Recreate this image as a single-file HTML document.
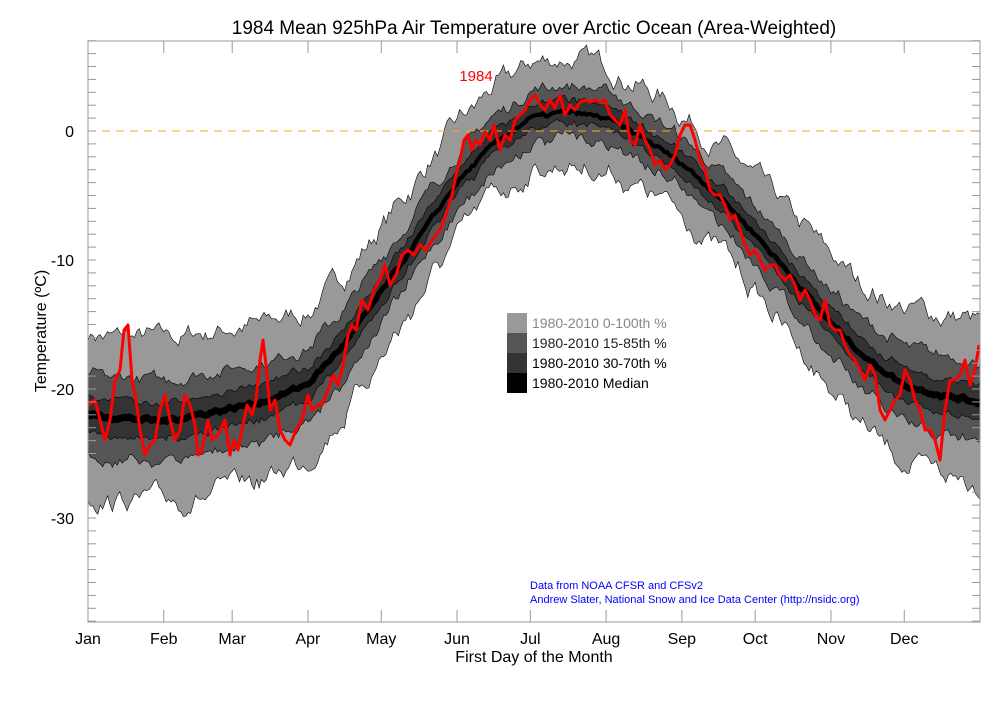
<!DOCTYPE html><html><head><meta charset="utf-8"><style>body{margin:0;background:#fff}svg{display:block;font-family:"Liberation Sans",sans-serif}</style></head><body>
<svg id="s" width="1008" height="720" viewBox="0 0 1008 720"></svg>
<script>
const X0=88,X1=980,DX=(X1-X0)/365,Y0=131,DY=12.9;
const xp=d=>X0+d*DX, yp=v=>Y0-v*DY;
const mk=[[0,-22],[30,-22.5],[59,-21.5],[75,-20.8],[90,-19.6],[105,-16.5],[120,-12.5],[151,-4],[166,-1],[181,1],[196,1.5],[212,1],[227,-0.5],[243,-2.5],[258,-5],[273,-8],[289,-11.5],[304,-14.9],[319,-17.7],[334,-19.7],[350,-20.5],[365,-21]];
function interp(a,d){for(let i=0;i<a.length-1;i++){if(d<=a[i+1][0]){let t=(d-a[i][0])/(a[i+1][0]-a[i][0]);return a[i][1]+t*(a[i+1][1]-a[i][1]);}}return a[a.length-1][1];}
const wk=[[0,6.3],[60,6.3],[120,5],[160,4.2],[220,4],[260,4],[300,5],[340,6.2],[365,6.3]];
const lw=[[0,7],[90,6],[150,4],[240,4],[300,5],[365,7]];
let seed=7;function rnd(){seed=(seed*16807)%2147483647;return seed/2147483647-0.5;}
function noise(n,amp,sm){let a=[],v=0;for(let i=0;i<n;i++){v=v*sm+rnd()*amp;a.push(v);}return a;}
const N=366,nz=[noise(N,1.2,0.8),noise(N,1.2,0.8),noise(N,0.7,0.7),noise(N,0.7,0.7),noise(N,0.4,0.6),noise(N,0.4,0.6),noise(N,0.3,0.5)];
function band(fr,i1,i2,col){let up=[],dn=[];for(let d=0;d<N;d++){let m=interp(mk,d)+nz[6][d],w=interp(wk,d);up.push(xp(d).toFixed(1)+','+yp(m+w*fr+nz[i1][d]).toFixed(1));dn.push(xp(d).toFixed(1)+','+yp(m-w*fr-nz[i2][d]).toFixed(1));}
return `<polygon points="${up.join(' ')} ${dn.reverse().join(' ')}" fill="${col}" stroke="#000" stroke-width="0.6"/>`;}
let h='';
h+=`<defs><clipPath id="c"><rect x="${X0}" y="41" width="${X1-X0}" height="581"/></clipPath></defs>`;
h+=`<text x="534" y="34" font-size="19" text-anchor="middle">1984 Mean 925hPa Air Temperature over Arctic Ocean (Area-Weighted)</text>`;
h+=`<g clip-path="url(#c)">`;
h+=band(1,0,1,'#999')+band(0.5,2,3,'#555')+band(0.22,4,5,'#333');
for(let d=0;d<N-1;d++){h+=`<line x1="${xp(d).toFixed(1)}" y1="${yp(interp(mk,d)+nz[6][d]).toFixed(1)}" x2="${xp(d+1).toFixed(1)}" y2="${yp(interp(mk,d+1)+nz[6][d+1]).toFixed(1)}" stroke="#000" stroke-width="${interp(lw,d)}" stroke-linecap="round"/>`;}
h+=`<line x1="${X0}" y1="${Y0}" x2="${X1}" y2="${Y0}" stroke="#f5a623" stroke-width="1" stroke-dasharray="8,6"/>`;
const red=[[88,405],[95,400],[100,420],[105,440],[110,420],[115,380],[120,370],[124,330],[128,325],[132,380],[136,400],[140,430],[145,455],[150,445],[155,440],[160,410],[165,395],[170,420],[175,440],[180,430],[185,395],[190,405],[195,425],[198,455],[202,450],[208,420],[212,440],[218,435],[225,420],[230,455],[234,440],[238,450],[242,430],[247,405],[252,415],[256,400],[260,360],[263,340],[266,365],[270,410],[275,400],[280,430],[285,440],[290,445],[296,430],[302,420],[308,395],[312,410],[318,405],[322,405],[328,390],[333,375],[338,385],[343,365],[348,335],[352,325],[356,330],[362,300],[368,310],[374,290],[380,280],[385,265],[390,285],[396,275],[402,255],[408,250],[414,255],[420,245],[426,250],[432,240],[440,230],[446,215],[452,195],[456,175],[460,160],[464,140],[468,135],[472,150],[476,140],[480,145],[485,132],[490,140],[494,125],[500,150],[505,135],[510,140],[515,120],[520,115],[525,110],[530,100],[535,95],[540,105],[545,110],[550,100],[555,108],[560,95],[565,115],[570,105],[575,110],[580,102],[585,100],[590,102],[595,100],[600,102],[605,100],[610,115],[615,120],[620,125],[625,110],[630,140],[635,145],[640,125],[645,140],[650,150],[655,165],[660,160],[665,170],[670,165],[675,155],[680,135],[685,125],[690,125],[695,140],[700,160],[705,170],[710,190],[715,195],[720,195],[725,205],[730,220],[735,215],[740,230],[745,245],[750,255],[755,250],[760,260],[765,270],[770,265],[775,265],[780,275],[785,280],[790,275],[795,285],[800,300],[805,290],[810,300],[815,315],[820,320],[825,300],[830,325],[835,330],[840,330],[845,345],[850,355],[855,360],[860,370],[865,380],[870,365],[875,375],[880,410],[885,420],[890,410],[895,400],[900,395],[905,370],[910,380],[915,400],[920,410],[925,430],[930,430],[935,440],[940,460],[945,410],[950,380],[955,380],[960,375],[965,360],[970,385],[975,370],[979,345]];
h+=`<polyline points="${red.map(p=>p.join(',')).join(' ')}" fill="none" stroke="#f00" stroke-width="3" stroke-linejoin="round"/>`;
h+=`</g>`;
h+=`<text x="476" y="81" font-size="15" fill="#f00" text-anchor="middle">1984</text>`;
h+=`<rect x="${X0}" y="41" width="${X1-X0}" height="581" fill="none" stroke="#999" stroke-width="1"/>`;
for(let v=7;v>=-38;v--){let y=yp(v);h+=`<line x1="${X0}" y1="${y}" x2="${X0+8}" y2="${y}" stroke="#999"/><line x1="${X1}" y1="${y}" x2="${X1-8}" y2="${y}" stroke="#999"/>`;
if(v%10==0)h+=`<text x="${X0-14}" y="${y+6}" font-size="16" text-anchor="end">${v}</text>`;}
const md=[0,31,59,90,120,151,181,212,243,273,304,334],mn=['Jan','Feb','Mar','Apr','May','Jun','Jul','Aug','Sep','Oct','Nov','Dec'];
md.forEach((d,i)=>{let x=xp(d);h+=`<line x1="${x}" y1="41" x2="${x}" y2="53" stroke="#999"/><line x1="${x}" y1="622" x2="${x}" y2="610" stroke="#999"/><text x="${x}" y="644" font-size="16" text-anchor="middle">${mn[i]}</text>`;});
h+=`<text x="534" y="662" font-size="16" text-anchor="middle">First Day of the Month</text>`;
h+=`<text transform="translate(46,331) rotate(-90)" font-size="16" text-anchor="middle">Temperature (ºC)</text>`;
const lg=[['#999','#888','1980-2010 0-100th %'],['#555','#222','1980-2010 15-85th %'],['#333','#000','1980-2010 30-70th %'],['#000','#000','1980-2010 Median']];
lg.forEach((l,i)=>{let y=313+i*20;h+=`<rect x="507" y="${y}" width="20" height="20" fill="${l[0]}"/><text x="532" y="${y+15}" font-size="14" fill="${l[1]}">${l[2]}</text>`;});
h+=`<text x="530" y="589" font-size="11" fill="#00f">Data from NOAA CFSR and CFSv2</text><text x="530" y="603" font-size="11" fill="#00f">Andrew Slater, National Snow and Ice Data Center (http://nsidc.org)</text>`;
document.getElementById('s').innerHTML=h;
</script></body></html>
